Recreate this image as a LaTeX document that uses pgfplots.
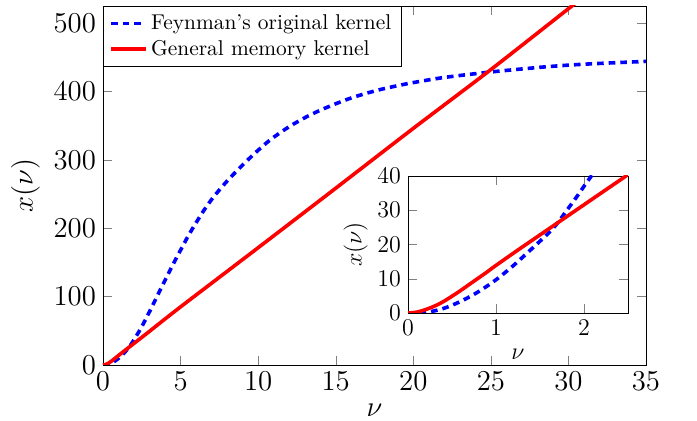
\documentclass[border=0pt]{standalone}
\usepackage{pgfplots}
\usepackage{pgfplotstable}
\pgfplotsset{compat=1.18}
\pgfplotstableread{
nu x
0 0
0.2 0.15
0.4 1.3
0.6 3.4
0.8 6.2
1 9.7
1.2 13.9
1.4 18.6
1.6 23.4
1.7 26.3
1.8 29.8
1.9 33.3
2 37
2.1 40.6
2.2 44.3
2.5 56
3 78
3.5 101
4 124
4.5 146.5
5 168
5.5 189
6 208
6.5 226
7 242
7.5 256
8 269
8.5 281
9 292.5
9.5 303.5
10 314
10.5 324
11 333
12 348.5
13 361.5
14 372.5
15 382
16 390.5
17 397.5
18 403.5
19 408.5
20 413
22 420.5
25 428.5
28 435
30 438.5
32 441
35 444
}\feyn
\pgfplotstableread{
nu x
0 0
0.1 0.25
0.2 1
0.3 2
0.4 3.3
0.5 4.9
0.6 6.6
0.7 8.4
0.8 10.2
0.9 12
1 13.9
1.25 18.4
1.5 22.8
1.75 27.2
2 31.6
2.25 36
2.5 40.4
3 49.3
5 85
10 171.5
15 258.5
20 346
25 432
30 521
31 538
}\gen
\begin{document}
\begin{tikzpicture}
\useasboundingbox (-51.5pt,-28pt) rectangle (297pt,182.5pt);
\begin{axis}[
  at={(0,0)}, anchor=south west,
  scale only axis, width=271.5pt, height=179.5pt,
  xmin=0, xmax=35, ymin=0, ymax=525,
  xtick={0,5,...,35}, ytick={0,100,...,500},
  tick label style={font=\Large},
  label style={font=\Large},
  xlabel={$\nu$}, ylabel={$x(\nu)$},
  legend style={at={(0,1)}, anchor=north west, draw=black, font=\fontsize{10.7}{13}\selectfont},
  legend cell align=left,
]
\addplot[blue, line width=1.8pt, dash pattern=on 3.3pt off 2.5pt, smooth] table[x=nu,y=x] {\feyn};
\addlegendentry{Feynman’s original kernel}
\addplot[red, line width=1.8pt, smooth] table[x=nu,y=x] {\gen};
\addlegendentry{General memory kernel}
\end{axis}
\begin{axis}[
  at={(152.5pt,26pt)}, anchor=south west,
  scale only axis, width=110pt, height=68.5pt,
  xmin=0, xmax=2.5, ymin=0, ymax=40,
  xtick={0,1,2}, ytick={0,10,...,40},
  axis background/.style={fill=white},
  tick label style={font=\large},
  label style={font=\large},
  xlabel={$\nu$}, ylabel={$x(\nu)$},
  ylabel shift=-2pt,
]
\addplot[blue, line width=1.8pt, dash pattern=on 3.3pt off 2.5pt, smooth] table[x=nu,y=x] {\feyn};
\addplot[red, line width=1.8pt, smooth] table[x=nu,y=x] {\gen};
\end{axis}
\end{tikzpicture}
\end{document}
